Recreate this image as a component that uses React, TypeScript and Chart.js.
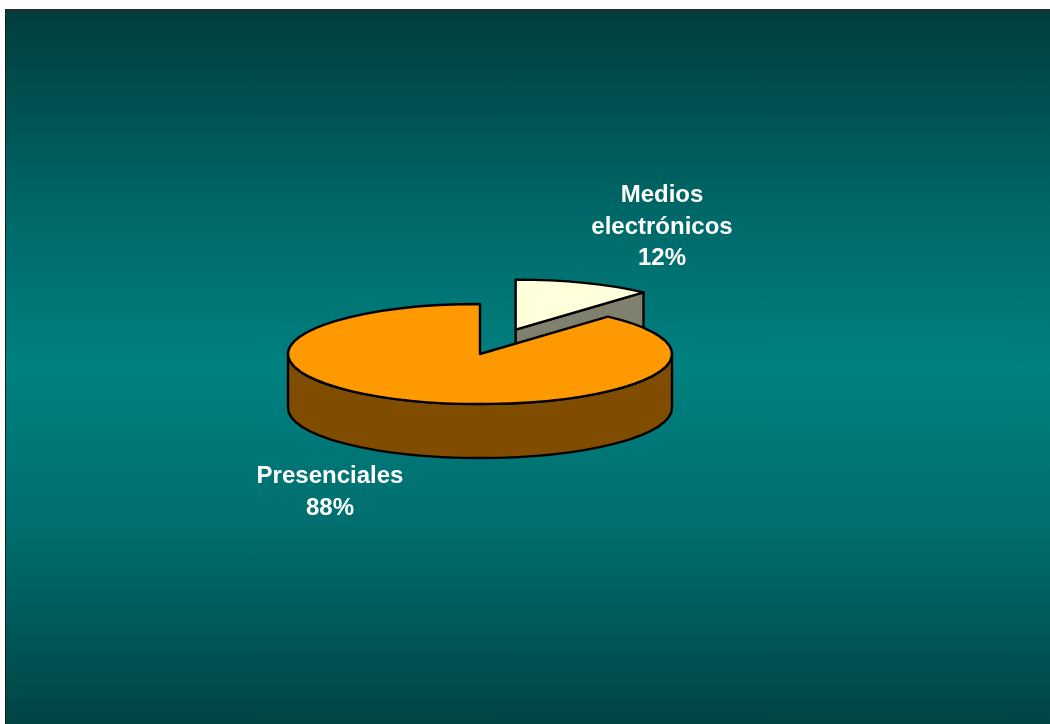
import React, { useEffect, useRef } from "react";
import { Chart, registerables } from "chart.js";

Chart.register(...registerables);

const categories = ["Medios electrónicos", "Presenciales"];
const values = [11.6, 88.4];
const topColors = ["#FFFFDC", "#FF9900"];
const sideColors = ["#80806E", "#804C00"];
const explodeOffsets = [100, 0];

const SQUASH = 50 / 192;
const DEPTH = 54;
const LABEL_ANCHORS = [
  { dx: 182, dy: -152 },
  { dx: -150, dy: 129 },
];

export default function App() {
  const ref = useRef<HTMLCanvasElement>(null);

  useEffect(() => {
    document.body.style.margin = "0";
    const canvas = ref.current!;

    const pie3d = {
      id: "pie3d",
      beforeDatasetsDraw(chart: any) {
        const ctx: CanvasRenderingContext2D = chart.ctx;
        const meta = chart.getDatasetMeta(0);
        const arcs = meta.data as any[];
        const info = arcs.map((arc, i) => {
          const p = arc.getProps(["x", "y", "startAngle", "endAngle", "outerRadius"], true);
          const mid = (p.startAngle + p.endAngle) / 2;
          const ex = explodeOffsets[i] * Math.cos(mid);
          const ey = explodeOffsets[i] * Math.sin(mid);
          return { i, arc, p, mid, ex, ey, back: Math.sin(mid) * p.outerRadius + ey };
        });
        info.sort((a, b) => a.back - b.back);
        for (const s of info) {
          const { i, arc, p, ex, ey } = s;
          const a0 = p.startAngle, a1 = p.endAngle, r = p.outerRadius;
          const sx = p.x + ex;
          const sy = p.y + ey * SQUASH;
          const ry = r * SQUASH;
          ctx.save();
          ctx.lineWidth = 2.4;
          ctx.strokeStyle = "#000";
          ctx.lineJoin = "round";
          ctx.fillStyle = sideColors[i];
          // radial faces
          const faces: number[] = [];
          if (Math.cos(a0) < -1e-6) faces.push(a0);
          if (Math.cos(a1) > 1e-6) faces.push(a1);
          for (const a of faces) {
            const px = sx + r * Math.cos(a);
            const py = sy + ry * Math.sin(a);
            ctx.beginPath();
            ctx.moveTo(sx, sy);
            ctx.lineTo(px, py);
            ctx.lineTo(px, py + DEPTH);
            ctx.lineTo(sx, sy + DEPTH);
            ctx.closePath();
            ctx.fill();
            ctx.stroke();
          }
          // outer rim (front half only)
          for (let n = -1; n <= 1; n++) {
            const lo = Math.max(a0, 2 * Math.PI * n);
            const hi = Math.min(a1, 2 * Math.PI * n + Math.PI);
            if (hi <= lo) continue;
            ctx.beginPath();
            ctx.ellipse(sx, sy, r, ry, 0, lo, hi);
            ctx.ellipse(sx, sy + DEPTH, r, ry, 0, hi, lo, true);
            ctx.closePath();
            ctx.fill();
            ctx.stroke();
          }
          // top face via the library's arc element
          ctx.save();
          ctx.translate(ex, sy);
          ctx.scale(1, SQUASH);
          ctx.translate(0, -p.y);
          arc.draw(ctx);
          ctx.restore();
          ctx.beginPath();
          ctx.moveTo(sx, sy);
          ctx.ellipse(sx, sy, r, ry, 0, a0, a1);
          ctx.closePath();
          ctx.stroke();
          ctx.restore();
        }
        return false;
      },
      afterDraw(chart: any) {
        const ctx: CanvasRenderingContext2D = chart.ctx;
        const meta = chart.getDatasetMeta(0);
        const total = values.reduce((a, b) => a + b, 0);
        ctx.save();
        ctx.fillStyle = "#FFFFFF";
        ctx.font = 'bold 24px "Liberation Sans", Arial, sans-serif';
        ctx.textAlign = "center";
        ctx.textBaseline = "alphabetic";
        meta.data.forEach((arc: any, i: number) => {
          const p = arc.getProps(["x", "y"], true);
          const lines = categories[i].split(" ");
          lines.push(Math.round((values[i] / total) * 100) + "%");
          const x = p.x + LABEL_ANCHORS[i].dx;
          let y = p.y + LABEL_ANCHORS[i].dy;
          for (const line of lines) {
            ctx.fillText(line, x, y);
            y += 31.5;
          }
        });
        ctx.restore();
      },
    };

    const chart = new Chart(canvas, {
      type: "pie",
      data: {
        labels: categories,
        datasets: [
          {
            data: values,
            backgroundColor: topColors,
            borderWidth: 0,
            offset: 0,
            radius: 192,
          } as any,
        ],
      },
      options: {
        animation: false,
        responsive: false,
        devicePixelRatio: 1,
        events: [],
        layout: { padding: { left: 0, right: 96, top: 0, bottom: 27 } },
        plugins: {
          legend: { display: false },
          tooltip: { enabled: false },
        },
      },
      plugins: [pie3d],
    });
    return () => chart.destroy();
  }, []);

  return (
    <div
      style={{
        position: "absolute",
        left: 5,
        top: 9,
        width: 1045,
        height: 715,
        boxSizing: "border-box",
        borderTop: "2px solid #2a2a2a",
        borderLeft: "1px solid #1a1a1a",
        background:
          "linear-gradient(180deg, #003d3d 0%, #006a6a 30%, #008080 50%, #006e6e 72%, #004444 100%)",
      }}
    >
      <canvas ref={ref} width={1044} height={713} style={{ display: "block" }} />
    </div>
  );
}
